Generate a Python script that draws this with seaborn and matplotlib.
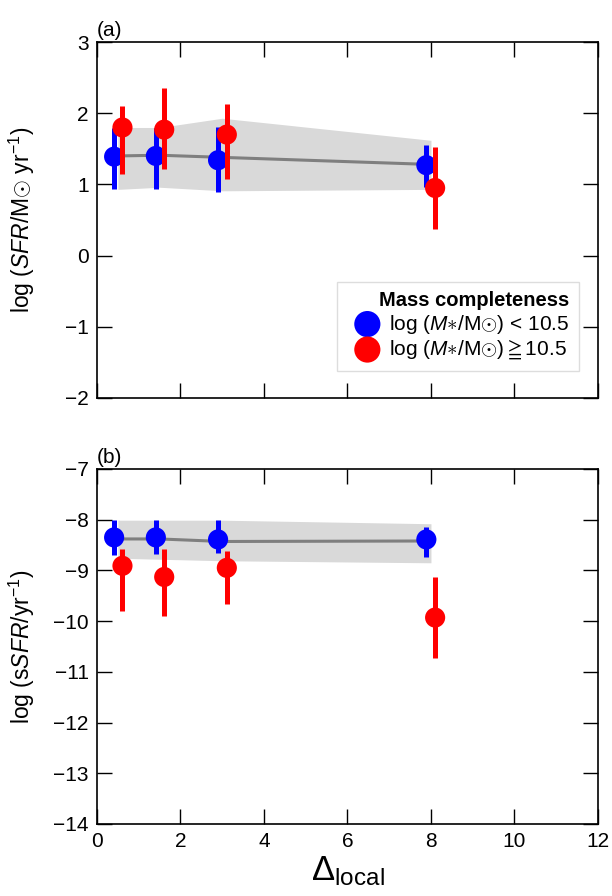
import numpy as np
import pandas as pd
import seaborn as sns
import matplotlib
matplotlib.use("Agg")
import matplotlib.pyplot as plt

# ---- data ----
# panel (a): log SFR
x_lo = [0.41, 1.41, 2.90, 7.89]          # low-mass bins (blue)
x_hi = [0.61, 1.61, 3.11, 8.10]          # high-mass bins (red)
sfr_lo = [1.39, 1.40, 1.34, 1.27]
sfr_lo_top = [1.79, 1.79, 1.80, 1.55]
sfr_lo_bot = [0.93, 0.94, 0.90, 0.97]
sfr_hi = [1.80, 1.77, 1.70, 0.95]
sfr_hi_top = [2.10, 2.35, 2.13, 1.53]
sfr_hi_bot = [1.14, 1.22, 1.08, 0.37]

# gray reference trend + band
x_band = [0.5, 1.5, 3.0, 8.0]
sfr_line = [1.40, 1.41, 1.38, 1.28]
sfr_band_top = [1.80, 1.80, 1.93, 1.62]
sfr_band_bot = [0.93, 0.96, 0.91, 0.93]

# panel (b): log sSFR
ssfr_lo = [-8.35, -8.35, -8.39, -8.39]
ssfr_lo_top = [-8.00, -8.00, -8.00, -8.15]
ssfr_lo_bot = [-8.70, -8.68, -8.66, -8.73]
ssfr_hi = [-8.91, -9.13, -8.95, -9.93]
ssfr_hi_top = [-8.58, -8.57, -8.62, -9.13]
ssfr_hi_bot = [-9.81, -9.89, -9.67, -10.73]

ssfr_line = [-8.38, -8.38, -8.43, -8.42]
ssfr_band_top = [-8.01, -8.01, -8.01, -8.08]
ssfr_band_bot = [-8.76, -8.78, -8.81, -8.85]

sns.set_theme(style="ticks")
plt.rcParams['font.family'] = ['Liberation Sans', 'DejaVu Sans']
plt.rcParams['mathtext.fontset'] = 'custom'
plt.rcParams['mathtext.rm'] = 'Liberation Sans'
plt.rcParams['mathtext.it'] = 'Liberation Sans:italic'
plt.rcParams['mathtext.bf'] = 'Liberation Sans:bold'
plt.rcParams['text.color'] = 'black'
plt.rcParams['axes.labelcolor'] = 'black'
plt.rcParams['axes.edgecolor'] = 'black'
plt.rcParams['xtick.color'] = 'black'
plt.rcParams['ytick.color'] = 'black'

fig = plt.figure(figsize=(6.12, 8.96), dpi=100)
ax1 = fig.add_axes([0.1585, 0.556, 0.8185, 0.397])
ax2 = fig.add_axes([0.1585, 0.0804, 0.8185, 0.3962])

lab_lo = r'log ($M$$\ast$/M$\odot$) < 10.5'
lab_hi = r'log ($M$$\ast$/M$\odot$)$\geqq$10.5'


def draw(ax, line, btop, bbot, ylo, ytop_lo, ybot_lo, yhi, ytop_hi, ybot_hi):
    ax.fill_between(x_band, bbot, btop, color='#d9d9d9', lw=0, zorder=1)
    trend = pd.DataFrame({'x': x_band, 'y': line})
    sns.lineplot(data=trend, x='x', y='y', ax=ax, color='#7f7f7f', lw=2.2,
                 zorder=2, legend=False)
    lo = pd.DataFrame({'x': x_lo, 'y': ylo})
    hi = pd.DataFrame({'x': x_hi, 'y': yhi})
    ax.vlines(x_lo, ybot_lo, ytop_lo, color='#0000ff', lw=3.6, zorder=3)
    sns.scatterplot(data=lo, x='x', y='y', ax=ax, color='#0000ff', s=210,
                    edgecolor='none', zorder=4, label=lab_lo)
    ax.vlines(x_hi, ybot_hi, ytop_hi, color='#ff0000', lw=3.6, zorder=5)
    sns.scatterplot(data=hi, x='x', y='y', ax=ax, color='#ff0000', s=210,
                    edgecolor='none', zorder=6, label=lab_hi)
    ax.set_xlim(0, 12)
    ax.set_xticks(np.arange(0, 13, 2))
    ax.tick_params(direction='in', length=11, width=1, top=True, right=True,
                   labelsize=15, pad=6)
    for s in ax.spines.values():
        s.set_linewidth(1.2)
    ax.set_xlabel('')


draw(ax1, sfr_line, sfr_band_top, sfr_band_bot, sfr_lo, sfr_lo_top, sfr_lo_bot,
     sfr_hi, sfr_hi_top, sfr_hi_bot)
draw(ax2, ssfr_line, ssfr_band_top, ssfr_band_bot, ssfr_lo, ssfr_lo_top, ssfr_lo_bot,
     ssfr_hi, ssfr_hi_top, ssfr_hi_bot)

ax1.set_ylim(-2, 3)
ax1.set_yticks(np.arange(-2, 4, 1))
ax1.set_xticklabels([])
ax1.set_ylabel(r'log ($SFR$/M$\odot$ yr$^{-1}$)', fontsize=16.5)

ax2.set_ylim(-14, -7)
ax2.set_yticks(np.arange(-14, -6, 1))
ax2.set_ylabel(r'log (s$SFR$/yr$^{-1}$)', fontsize=16.5)
ax2.set_xlabel(r'$\Delta_{\rm local}$', fontsize=25, labelpad=2)
for a in (ax1, ax2):
    a.yaxis.set_label_coords(-0.12, 0.5)

ax1.text(0.0, 1.005, '(a)', transform=ax1.transAxes, fontsize=15, va='bottom')
ax2.text(0.0, 1.005, '(b)', transform=ax2.transAxes, fontsize=15, va='bottom')

ax2.get_legend().remove()
leg = ax1.legend(loc='lower right', bbox_to_anchor=(0.962, 0.076),
                 borderaxespad=0, title='Mass completeness', fontsize=15,
                 title_fontproperties={'weight': 'bold', 'size': 14.5},
                 fancybox=False, edgecolor='#dddddd', framealpha=1,
                 handletextpad=0.05, labelspacing=0.1, borderpad=0.45,
                 markerscale=1.3)
leg.get_frame().set_linewidth(1.0)
leg._legend_box.align = 'right'

fig.savefig('out.png', dpi=100)
